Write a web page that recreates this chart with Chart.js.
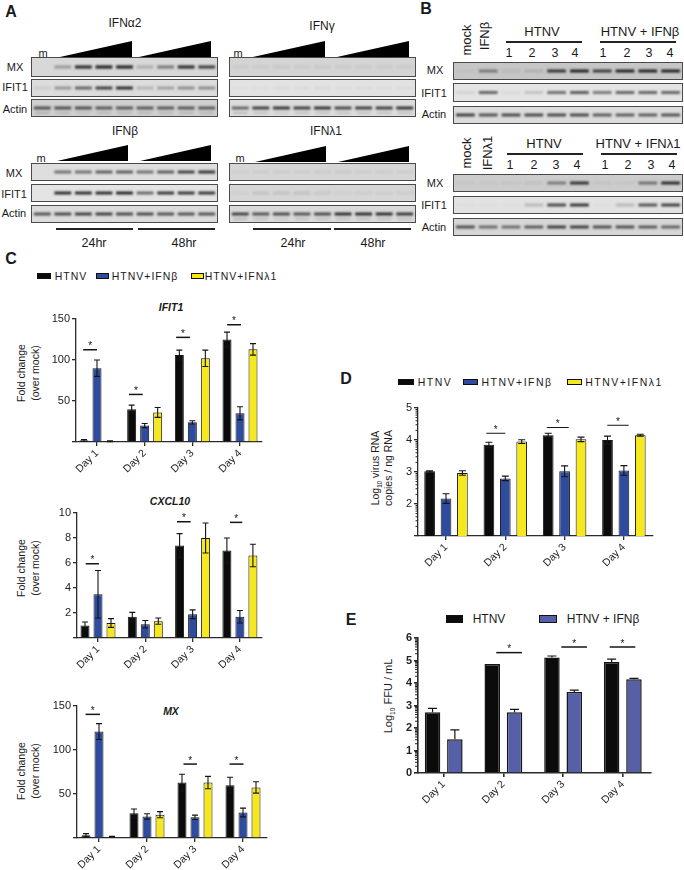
<!DOCTYPE html>
<html>
<head>
<meta charset="utf-8">
<script src="https://cdn.jsdelivr.net/npm/chart.js@4"></script>
<style>
  html, body { margin: 0; background: #fff; }
  #page { position: relative; width: 684px; height: 870px; overflow: hidden; font-family: "Liberation Sans", Arial, sans-serif; color: #1a1a1a; }
  #page > canvas { position: absolute; filter: blur(0.3px); }
  .t { position: absolute; white-space: nowrap; transform: translate(-50%, -50%); line-height: 1; }
  .blot { position: absolute; box-sizing: border-box; border: 1px solid #4a4a4a; overflow: hidden; }
  .blot canvas { position: absolute; filter: blur(0.9px); left: 0; top: 0; }
  .wedge { position: absolute; background: #000; clip-path: polygon(0 100%, 100% 0, 100% 100%); }
  .rule { position: absolute; background: #222; }
  .swatch { position: absolute; box-sizing: border-box; border: 1.5px solid #111; }
  sub { font-size: 60%; line-height: 0; }
</style>
</head>
<body>
<div id="page"></div>
<script>
// bar chart data
const days = ['Day 1', 'Day 2', 'Day 3', 'Day 4'];

const ifit1Htnv = [2, 40, 106, 125];
const ifit1HtnvErr = [1, 5, 6, 9];
const ifit1Beta = [90, 20, 24, 35];
const ifit1BetaErr = [10, 2.5, 2, 8];
const ifit1Lambda = [1, 36, 102, 113];
const ifit1LambdaErr = [0.5, 6, 10, 7];
const ifit1Ticks = ['', '50', '100', '150'];

const cxclHtnv = [1, 1.7, 7.4, 7];
const cxclHtnvErr = [0.28, 0.35, 0.95, 1];
const cxclBeta = [3.5, 1.1, 1.9, 1.7];
const cxclBetaErr = [1.9, 0.3, 0.35, 0.5];
const cxclLambda = [1.2, 1.35, 8, 6.6];
const cxclLambdaErr = [0.35, 0.25, 1.2, 0.9];
const cxclTicks = ['', '2', '4', '6', '8', '10'];

const mxHtnv = [3, 28, 63, 60];
const mxHtnvErr = [2, 5, 9.5, 9];
const mxBeta = [121, 24.5, 23.5, 29];
const mxBetaErr = [9, 3, 2.5, 5];
const mxLambda = [1.5, 26.5, 63, 57.5];
const mxLambdaErr = [0.5, 3.5, 7, 6.5];
const mxTicks = ['', '50', '100', '150'];

const rnaHtnv = [3.02, 3.85, 4.15, 4.0];
const rnaHtnvErr = [0.02, 0.08, 0.06, 0.12];
const rnaBeta = [2.17, 2.8, 3.02, 3.05];
const rnaBetaErr = [0.15, 0.07, 0.17, 0.15];
const rnaLambda = [2.97, 3.95, 4.02, 4.15];
const rnaLambdaErr = [0.07, 0.06, 0.07, 0.03];
const rnaTicks = ['', '2', '3', '4', '5'];

const ffuHtnv = [2.7, 4.85, 5.13, 4.93];
const ffuHtnvErr = [0.17, 0, 0.07, 0.13];
const ffuBeta = [1.5, 2.7, 3.6, 4.17];
const ffuBetaErr = [0.42, 0.13, 0.08, 0.04];
const ffuTicks = ['0', '1', '2', '3', '4', '5', '6'];

// significance bars: day position from, to, height on the value axis
const ifit1SigFrom = [0.71, 1.67, 2.66, 3.73];
const ifit1SigTo = [1.0, 1.96, 2.95, 4.02];
const ifit1SigY = [112.5, 58, 127.6, 143];
const cxclSigFrom = [0.74, 2.67, 3.79];
const cxclSigTo = [1.02, 2.96, 4.05];
const cxclSigY = [5.94, 9.3, 9.25];
const mxSigFrom = [0.72, 2.76, 3.72];
const mxSigTo = [1.02, 3.04, 4.01];
const mxSigY = [140.5, 84, 84];
const rnaSigFrom = [1.68, 2.70, 3.72];
const rnaSigTo = [2.0, 3.07, 4.08];
const rnaSigY = [4.21, 4.39, 4.46];
const ffuSigFrom = [1.88, 2.97, 3.78];
const ffuSigTo = [2.31, 3.40, 4.21];
const ffuSigY = [5.35, 5.6, 5.6];

// minor ticks of the log axes, inside one decade
const logMinor = [0.301, 0.477, 0.602, 0.699, 0.778, 0.845, 0.903, 0.954];

// western blots: band darkness per lane
const a2Mx = [0, .3, .85, .9, .9, .2, .45, .85, .75];
const a2Ifit = [.08, .35, .6, .8, .9, .2, .3, .4, .4];
const a2Actin = [.7, .7, .7, .65, .65, .65, .65, .65, .65];
const gammaMx = [.05, .05, .06, .05, .06, .05, .05, .05, .05];
const gammaIfit = [.02, .02, .04, .03, .04, .03, .03, .03, .03];
const gammaActin = [.6, .8, .85, .8, .85, .75, .8, .8, .85];
const betaMx = [0, .55, .55, .65, .65, .55, .65, .8, .85];
const betaIfit = [0, .9, .9, .9, .95, .6, .85, .85, .85];
const betaActin = [.7, .75, .8, .8, .75, .75, .7, .7, .7];
const lambdaMx = [.05, .05, .05, .05, .06, .07, .05, .06, .05];
const lambdaIfit = [.04, .1, .1, .1, .08, .04, .05, .05, .05];
const lambdaActin = [.8, .7, .75, .7, .75, .9, .9, .9, .85];
const actinLowerBand = [.2, .15, .1, .15, .15, .15, .15, .15, .15];
const bBetaMx = [.03, .45, .08, .12, .85, .95, .8, .95, .95, .95];
const bBetaIfit = [.08, .6, .05, .15, .55, .65, .5, .6, .6, .6];
const bBetaActin = [.8, .7, .75, .75, .75, .75, .65, .65, .65, .7];
const bLambdaMx = [.04, .04, .05, .06, .45, .85, .05, .05, .5, .9];
const bLambdaIfit = [.02, .02, .02, .2, .75, .85, .02, .2, .7, .8];
const bLambdaActin = [.7, .55, .55, .65, .8, .8, .7, .7, .65, .6];
const bandSpan = [0.41, 0.59];
const lowerSpan = [0.14, 0.25];

const BLACK = '#0b0b0b', BLUE = '#2f4b9d', YELLOW = '#f6e81e', BLUE_E = '#5560a8';
const page = document.getElementById('page');

function label(html, x, y, size, extra) {
  const d = document.createElement('div');
  d.className = 't';
  d.innerHTML = html;
  d.style.left = x + 'px';
  d.style.top = y + 'px';
  d.style.fontSize = size + 'px';
  if (extra) {
    if (extra.rotate) d.style.transform = 'translate(-50%, -50%) rotate(-90deg)';
    if (extra.bold) d.style.fontWeight = 'bold';
    if (extra.italic) d.style.fontStyle = 'italic';
    if (extra.spacing) d.style.letterSpacing = extra.spacing + 'px';
  }
  page.appendChild(d);
}

function box(cls, x, y, w, h, bg) {
  const d = document.createElement('div');
  d.className = cls;
  d.style.cssText = `left:${x}px;top:${y}px;width:${w}px;height:${h}px;` + (bg ? `background:${bg};` : '');
  page.appendChild(d);
  return d;
}

// blot = floating bars on a lane axis, one bar per lane
function blot(x, y, w, h, bg, bands, lower) {
  const wrap = box('blot', x, y, w, h, bg);
  const cv = document.createElement('canvas');
  cv.width = w - 2; cv.height = h - 2;
  cv.style.width = (w - 2) + 'px'; cv.style.height = (h - 2) + 'px';
  wrap.appendChild(cv);
  const sets = [{
    data: bands.map(() => bandSpan),
    backgroundColor: bands.map(a => `rgba(15,15,15,${a})`),
    grouped: false, barPercentage: .82, categoryPercentage: 1
  }];
  if (lower) sets.push({
    data: lower.map(() => lowerSpan),
    backgroundColor: lower.map(a => `rgba(15,15,15,${a})`),
    grouped: false, barPercentage: .7, categoryPercentage: 1
  });
  new Chart(cv, {
    type: 'bar',
    data: { labels: bands.map((_, i) => i), datasets: sets },
    options: {
      responsive: false, animation: false, events: [],
      plugins: { legend: { display: false }, tooltip: { enabled: false } },
      scales: { x: { display: false }, y: { display: false, min: 0, max: 1 } }
    }
  });
}

// error bars, significance bars and log minor ticks
const figureMarks = {
  id: 'figureMarks',
  afterDatasetsDraw(chart, args, opts) {
    const { ctx, scales: { x, y } } = chart;
    ctx.save();
    ctx.strokeStyle = '#141414';
    ctx.lineWidth = opts.errWidth;
    chart.data.datasets.forEach((ds, di) => {
      chart.getDatasetMeta(di).data.forEach((bar, i) => {
        const v = ds.data[i].y, e = ds.err[i];
        if (!e) return;
        const top = y.getPixelForValue(v + e);
        const bottom = y.getPixelForValue(opts.upperOnly ? v : v - e);
        ctx.beginPath();
        ctx.moveTo(bar.x, top); ctx.lineTo(bar.x, bottom);
        ctx.moveTo(bar.x - opts.cap, top); ctx.lineTo(bar.x + opts.cap, top);
        if (!opts.upperOnly) { ctx.moveTo(bar.x - opts.cap, bottom); ctx.lineTo(bar.x + opts.cap, bottom); }
        ctx.stroke();
      });
    });
    ctx.lineWidth = opts.sigWidth;
    ctx.fillStyle = '#141414';
    ctx.font = '10px "Liberation Sans"';
    ctx.textAlign = 'center';
    opts.sigY.forEach((v, i) => {
      const a = x.getPixelForValue(opts.sigFrom[i]), b = x.getPixelForValue(opts.sigTo[i]), py = y.getPixelForValue(v);
      ctx.beginPath(); ctx.moveTo(a, py); ctx.lineTo(b, py); ctx.stroke();
      ctx.fillText('*', (a + b) / 2, py - 0.5);
    });
    if (opts.logAxis) {
      ctx.lineWidth = 1;
      ctx.strokeStyle = '#222';
      for (let d = y.min; d < y.max; d++) {
        logMinor.forEach(m => {
          const py = y.getPixelForValue(d + m);
          ctx.beginPath(); ctx.moveTo(x.left, py); ctx.lineTo(x.left - opts.minorLen, py); ctx.stroke();
        });
      }
    }
    ctx.restore();
  }
};

function barChart(c) {
  const W = 40, TOP = 12, BOTTOM = 44, RIGHT = 4;
  const cv = document.createElement('canvas');
  const w = c.right - c.left + W + RIGHT, h = c.bottom - c.top + TOP + BOTTOM;
  cv.width = w; cv.height = h;
  cv.style.cssText = `left:${c.left - W}px;top:${c.top - TOP}px;width:${w}px;height:${h}px;`;
  page.appendChild(cv);
  const axisColor = '#2b2b2b';
  const n = c.series.length;
  new Chart(cv, {
    type: 'bar',
    data: {
      datasets: c.series.map(s => ({
        data: s.values.map((v, i) => ({ x: i + 1, y: v })),
        err: s.err,
        backgroundColor: s.color,
        borderColor: '#161616',
        borderWidth: c.barBorder,
        categoryPercentage: c.barStep * n / c.dayStep,
        barPercentage: c.barWidth / c.barStep
      }))
    },
    options: {
      responsive: false, animation: false, events: [],
      layout: { padding: { top: TOP, right: RIGHT, left: 0, bottom: 0 } },
      plugins: {
        legend: { display: false }, tooltip: { enabled: false },
        figureMarks: {
          sigFrom: c.sigFrom, sigTo: c.sigTo, sigY: c.sigY,
          sigWidth: c.sigWidth, errWidth: c.errWidth, cap: c.cap,
          upperOnly: c.upperOnly, logAxis: c.logAxis, minorLen: c.minorLen
        }
      },
      scales: {
        x: {
          type: 'linear', offset: false,
          min: 1 + (c.left - c.firstDay) / c.dayStep,
          max: 1 + (c.right - c.firstDay) / c.dayStep,
          afterFit(s) { s.height = BOTTOM; s.paddingLeft = 0; s.paddingRight = 0; },
          grid: { display: true, offset: false, drawOnChartArea: false, drawTicks: true, tickLength: 4, color: axisColor, lineWidth: c.axisWidth },
          border: { color: axisColor, width: c.axisWidth },
          ticks: {
            stepSize: 1, includeBounds: false, autoSkip: false, minRotation: 45, maxRotation: 45, padding: 1,
            color: '#222', font: { family: 'Liberation Sans', size: 10.5 },
            callback: v => days[v - 1]
          }
        },
        y: {
          min: c.min, max: c.max,
          afterFit(s) { s.width = W; s.paddingTop = 0; s.paddingBottom = 0; },
          grid: { display: true, drawOnChartArea: false, drawTicks: true, tickLength: 4, color: axisColor, lineWidth: c.axisWidth },
          border: { color: axisColor, width: c.axisWidth },
          ticks: {
            stepSize: c.step, padding: 2,
            color: '#222', font: { family: 'Liberation Sans', size: c.tickSize, weight: c.tickBold ? 'bold' : 'normal' },
            callback: (v, i) => c.tickLabels[i]
          }
        }
      }
    },
    plugins: [figureMarks]
  });
}

// ---- panel letters
label('A', 11, 12, 16, { bold: true });
label('B', 426, 9, 16, { bold: true });
label('C', 11, 259, 16, { bold: true });
label('D', 346, 379, 16, { bold: true });
label('E', 351, 620, 16, { bold: true });

// ---- panel A
label('IFN&alpha;2', 125, 23, 12);
label('IFN&gamma;', 322, 26, 12);
label('IFN&beta;', 125, 131, 12);
label('IFN&lambda;1', 326, 131, 12);
label('m', 43, 53, 11); label('m', 238, 53, 11); label('m', 41, 158, 11); label('m', 240, 158, 11);
[[60, 41], [139, 41], [253, 41], [337, 41]].forEach(p => box('wedge', p[0], p[1], 72, 16));
[[57, 145], [140, 145], [255, 146], [338, 146]].forEach(p => box('wedge', p[0], p[1], 71, 16));
[['MX', 15, 67], ['IFIT1', 15, 87], ['Actin', 15, 109], ['MX', 14, 173], ['IFIT1', 14, 194], ['Actin', 14, 213]]
  .forEach(r => label(r[0], r[1], r[2], 11));

blot(31, 57, 187, 20, '#d8d8d8', a2Mx);
blot(31, 79, 187, 18, '#dcdcdc', a2Ifit);
blot(31, 99, 187, 18, '#cfcfcf', a2Actin, actinLowerBand);
blot(229, 57, 187, 20, '#d4d4d4', gammaMx);
blot(229, 79, 187, 18, '#e2e2e2', gammaIfit);
blot(229, 99, 187, 18, '#dcdcdc', gammaActin, actinLowerBand);
blot(31, 163, 187, 18, '#dedede', betaMx);
blot(31, 184, 187, 18, '#e4e4e4', betaIfit);
blot(31, 205, 187, 18, '#dcdcdc', betaActin);
blot(229, 163, 187, 18, '#d6d6d6', lambdaMx);
blot(229, 184, 187, 18, '#d6d6d6', lambdaIfit);
blot(229, 205, 187, 18, '#dadada', lambdaActin, actinLowerBand);

box('rule', 56, 228, 77, 2); box('rule', 138, 228, 77, 2);
box('rule', 253, 228, 78, 2); box('rule', 334, 228, 77, 2);
label('24hr', 94, 243, 12.5); label('48hr', 184, 243, 12.5);
label('24hr', 293, 243, 12.5); label('48hr', 373, 243, 12.5);

// ---- panel B
label('mock', 466, 40, 13, { rotate: true });
label('IFN&beta;', 484, 36, 13, { rotate: true });
label('HTNV', 542, 31, 13); label('HTNV + IFN&beta;', 640, 31, 13);
box('rule', 506, 41, 76, 1.5); box('rule', 600, 41, 76, 1.5);
label('mock', 466, 153, 13, { rotate: true });
label('IFN&lambda;1', 487, 153, 13, { rotate: true });
label('HTNV', 544, 143, 13); label('HTNV + IFN&lambda;1', 638, 143, 13);
box('rule', 507, 153, 76, 1.5); box('rule', 601, 153, 76, 1.5);
[509, 532, 555, 575, 603, 627, 649, 670].forEach((x, i) => label(String(i % 4 + 1), x, 53, 12.5));
[510, 534, 556, 577, 605, 628, 651, 672].forEach((x, i) => label(String(i % 4 + 1), x, 165, 12.5));
[['MX', 435, 70], ['IFIT1', 434, 93], ['Actin', 434, 114], ['MX', 435, 183], ['IFIT1', 434, 205], ['Actin', 434, 227]]
  .forEach(r => label(r[0], r[1], r[2], 11));

blot(453, 62, 230, 18, '#c6c6c6', bBetaMx);
blot(453, 83, 230, 19, '#e4e4e4', bBetaIfit);
blot(453, 106, 230, 18, '#dcdcdc', bBetaActin);
blot(453, 174, 230, 18, '#cccccc', bLambdaMx);
blot(453, 196, 230, 18, '#e2e2e2', bLambdaIfit);
blot(453, 218, 230, 18, '#d6d6d6', bLambdaActin);

// ---- panel C
box('swatch', 37, 273, 14, 6, BLACK);
label('HTNV', 71, 276, 10.5, { spacing: 1 });
box('swatch', 96, 273, 13, 6, BLUE);
label('HTNV+IFN&beta;', 145, 276, 10.5, { spacing: 1 });
box('swatch', 191, 273, 13, 6, YELLOW);
label('HTNV+IFN&lambda;1', 241, 276, 10.5, { spacing: 1 });

const panelC = { barBorder: 1, barStep: 13, barWidth: 9, cap: 3, sigWidth: 1.5, errWidth: 1.1, axisWidth: 1.3, tickSize: 11, step: 50, min: 0, max: 150 };

label('IFIT1', 171, 307, 10.5, { bold: true, italic: true });
label('Fold change', 21, 373, 10.5, { rotate: true });
label('(over mock)', 35, 373, 10.5, { rotate: true });
barChart({
  ...panelC, left: 76, right: 262, top: 319, bottom: 442, firstDay: 97, dayStep: 47.67,
  series: [
    { values: ifit1Htnv, err: ifit1HtnvErr, color: BLACK },
    { values: ifit1Beta, err: ifit1BetaErr, color: BLUE },
    { values: ifit1Lambda, err: ifit1LambdaErr, color: YELLOW }
  ],
  tickLabels: ifit1Ticks, sigFrom: ifit1SigFrom, sigTo: ifit1SigTo, sigY: ifit1SigY
});

label('CXCL10', 170, 501, 10.5, { bold: true, italic: true });
label('Fold change', 21, 568, 10.5, { rotate: true });
label('(over mock)', 35, 568, 10.5, { rotate: true });
barChart({
  ...panelC, left: 77, right: 262, top: 513, bottom: 638, firstDay: 98, dayStep: 47.3, step: 2, min: 0, max: 10,
  series: [
    { values: cxclHtnv, err: cxclHtnvErr, color: BLACK },
    { values: cxclBeta, err: cxclBetaErr, color: BLUE },
    { values: cxclLambda, err: cxclLambdaErr, color: YELLOW }
  ],
  tickLabels: cxclTicks, sigFrom: cxclSigFrom, sigTo: cxclSigTo, sigY: cxclSigY
});

label('MX', 171, 711, 10.5, { bold: true, italic: true });
label('Fold change', 21, 771, 10.5, { rotate: true });
label('(over mock)', 35, 771, 10.5, { rotate: true });
barChart({
  ...panelC, left: 77, right: 267, top: 706, bottom: 838, firstDay: 99, dayStep: 48,
  series: [
    { values: mxHtnv, err: mxHtnvErr, color: BLACK },
    { values: mxBeta, err: mxBetaErr, color: BLUE },
    { values: mxLambda, err: mxLambdaErr, color: YELLOW }
  ],
  tickLabels: mxTicks, sigFrom: mxSigFrom, sigTo: mxSigTo, sigY: mxSigY
});

// ---- panel D
box('swatch', 398, 379, 16, 6, BLACK);
label('HTNV', 435, 382, 10.5, { spacing: 1.5 });
box('swatch', 463, 379, 15, 6, BLUE);
label('HTNV+IFN&beta;', 517, 382, 10.5, { spacing: 1.5 });
box('swatch', 567, 379, 15, 6, YELLOW);
label('HTNV+IFN&lambda;1', 624, 382, 10.5, { spacing: 1.5 });
label('Log<sub>10</sub> virus RNA', 375, 468, 10.5, { rotate: true });
label('copies / ng RNA', 388, 468, 10.5, { rotate: true });
barChart({
  left: 418, right: 653, top: 408, bottom: 536, firstDay: 446, dayStep: 59.3,
  barBorder: 1, barStep: 16.4, barWidth: 10.7, cap: 3.5, sigWidth: 1, errWidth: 1.1, axisWidth: 1.3, tickSize: 11,
  step: 1, min: 1, max: 5, logAxis: true, minorLen: 2.5,
  series: [
    { values: rnaHtnv, err: rnaHtnvErr, color: BLACK },
    { values: rnaBeta, err: rnaBetaErr, color: BLUE },
    { values: rnaLambda, err: rnaLambdaErr, color: YELLOW }
  ],
  tickLabels: rnaTicks, sigFrom: rnaSigFrom, sigTo: rnaSigTo, sigY: rnaSigY
});

// ---- panel E
box('swatch', 446, 615, 17, 8, BLACK);
label('HTNV', 489, 619, 12);
box('swatch', 539, 615, 18, 8, BLUE_E);
label('HTNV + IFN&beta;', 603, 619, 12);
label('Log<sub>10</sub> FFU / mL', 388, 696, 11, { rotate: true });
barChart({
  left: 418, right: 651, top: 638, bottom: 773, firstDay: 443.7, dayStep: 59.7,
  barBorder: 1.5, barStep: 22.3, barWidth: 15.5, cap: 4.5, sigWidth: 1.5, errWidth: 1.2, axisWidth: 1.6, tickSize: 11, tickBold: true,
  step: 1, min: 0, max: 6, logAxis: true, minorLen: 3, upperOnly: true,
  series: [
    { values: ffuHtnv, err: ffuHtnvErr, color: BLACK },
    { values: ffuBeta, err: ffuBetaErr, color: BLUE_E }
  ],
  tickLabels: ffuTicks, sigFrom: ffuSigFrom, sigTo: ffuSigTo, sigY: ffuSigY
});
</script>
</body>
</html>
